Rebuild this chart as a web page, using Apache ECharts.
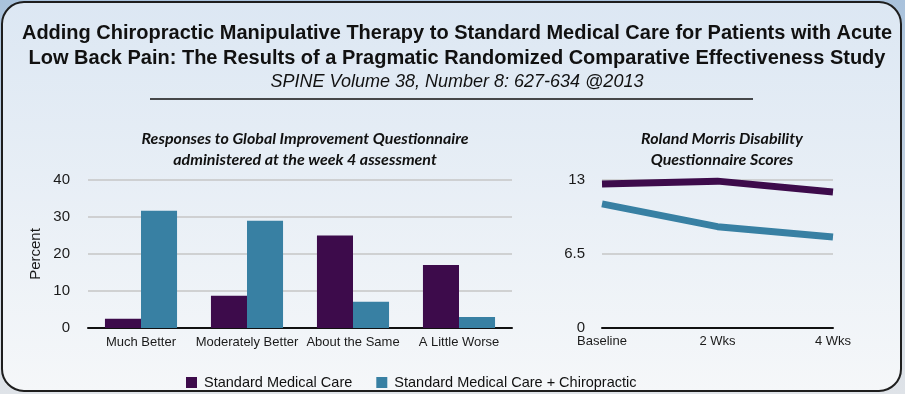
<!DOCTYPE html>
<html>
<head>
<meta charset="utf-8">
<script src="https://cdn.jsdelivr.net/npm/echarts@6/dist/echarts.min.js"></script>
<style>
html,body{margin:0;padding:0;}
body{width:905px;height:394px;background:linear-gradient(to bottom,#a9c2dc,#dfe3e8);}
#c{width:905px;height:394px;}
</style>
</head>
<body>
<div id="c"></div>
<script>
const barCategories = ['Much Better', 'Moderately Better', 'About the Same', 'A Little Worse'];
const barStandard = [2.5, 8.7, 25, 17];
const barChiro = [31.7, 29, 7.1, 3];
const lineCategories = ['Baseline', '2 Wks', '4 Wks'];
const lineStandard = [12.65, 12.9, 11.95];
const lineChiro = [10.9, 8.9, 8.0];
const seriesNames = ['Standard Medical Care', 'Standard Medical Care + Chiropractic'];
const colors = ['#3d0b4b', '#3880a3'];

const chart = echarts.init(document.getElementById('c'), null, {renderer: 'canvas'});
const axisText = {color: '#1a1a1a', fontFamily: 'Liberation Sans, Arial, sans-serif'};
chart.setOption({
  animation: false,
  color: colors,
  graphic: [
    {type: 'rect', z: -10, shape: {x: 2, y: 2, width: 899, height: 389, r: 22},
     style: {fill: new echarts.graphic.LinearGradient(0, 0, 0, 1, [{offset: 0, color: '#dce7f3'}, {offset: 1, color: '#f5f7f9'}]), stroke: '#1e1e1e', lineWidth: 2}},
    {type: 'line', shape: {x1: 150, y1: 99, x2: 753, y2: 99}, style: {stroke: '#111', lineWidth: 1.5}}
  ],
  title: [
    {text: 'Adding Chiropractic Manipulative Therapy to Standard Medical Care for Patients with Acute\nLow Back Pain: The Results of a Pragmatic Randomized Comparative Effectiveness Study',
     left: 452, top: 16, textAlign: 'center',
     textStyle: {fontFamily: 'Liberation Sans, Arial, sans-serif', fontWeight: 'bold', fontSize: 20, lineHeight: 25, color: '#111'}},
    {text: 'SPINE Volume 38, Number 8: 627-634 @2013', left: 452, top: 68, textAlign: 'center',
     textStyle: {fontFamily: 'Liberation Sans, Arial, sans-serif', fontStyle: 'italic', fontWeight: 'normal', fontSize: 18, color: '#111'}},
    {text: 'Responses to Global Improvement Questionnaire\nadministered at the week 4 assessment', left: 300, top: 123, textAlign: 'center',
     textStyle: {fontFamily: 'Lato, sans-serif', fontStyle: 'italic', fontWeight: 'bold', fontSize: 16, lineHeight: 21, color: '#111'}},
    {text: 'Roland Morris Disability\nQuestionnaire Scores', left: 717, top: 123, textAlign: 'center',
     textStyle: {fontFamily: 'Lato, sans-serif', fontStyle: 'italic', fontWeight: 'bold', fontSize: 16, lineHeight: 21, color: '#111'}}
  ],
  legend: {
    data: seriesNames, left: 181, top: 370, icon: 'rect', itemWidth: 11, itemHeight: 11, itemGap: 24,
    textStyle: {fontFamily: 'Liberation Sans, Arial, sans-serif', fontSize: 14.5, color: '#111', padding: [0, 0, 0, 2]}
  },
  grid: [
    {left: 88, right: 393, top: 180, bottom: 66},
    {left: 602, right: 72, top: 180, bottom: 66}
  ],
  xAxis: [
    {type: 'category', gridIndex: 0, data: barCategories,
     axisLine: {lineStyle: {color: '#111', width: 2}}, axisTick: {show: false},
     axisLabel: Object.assign({fontSize: 13, margin: 8, interval: 0}, axisText)},
    {type: 'category', gridIndex: 1, data: lineCategories, boundaryGap: false,
     axisLine: {lineStyle: {color: '#111', width: 2}}, axisTick: {show: false},
     axisLabel: Object.assign({fontSize: 13, margin: 7, interval: 0}, axisText)}
  ],
  yAxis: [
    {type: 'value', gridIndex: 0, min: 0, max: 40, interval: 10,
     name: 'Percent', nameLocation: 'middle', nameGap: 45, nameRotate: 90,
     nameTextStyle: {fontFamily: 'Liberation Sans, Arial, sans-serif', fontSize: 15, color: '#1a1a1a'},
     axisLine: {show: false}, axisTick: {show: false},
     splitLine: {lineStyle: {color: '#c6c6c6', width: 1.5}},
     axisLabel: Object.assign({fontSize: 15, margin: 18}, axisText)},
    {type: 'value', gridIndex: 1, min: 0, max: 13, interval: 6.5,
     axisLine: {show: false}, axisTick: {show: false},
     splitLine: {lineStyle: {color: '#c6c6c6', width: 1.5}},
     axisLabel: Object.assign({fontSize: 15, margin: 17}, axisText)}
  ],
  series: [
    {name: seriesNames[0], type: 'bar', xAxisIndex: 0, yAxisIndex: 0, data: barStandard, barGap: '0%', barCategoryGap: '32%', itemStyle: {color: colors[0]}},
    {name: seriesNames[1], type: 'bar', xAxisIndex: 0, yAxisIndex: 0, data: barChiro, barGap: '0%', barCategoryGap: '32%', itemStyle: {color: colors[1]}},
    {name: seriesNames[0], type: 'line', xAxisIndex: 1, yAxisIndex: 1, data: lineStandard, showSymbol: false, symbol: 'none', lineStyle: {width: 7, color: colors[0]}, itemStyle: {color: colors[0]}},
    {name: seriesNames[1], type: 'line', xAxisIndex: 1, yAxisIndex: 1, data: lineChiro, showSymbol: false, symbol: 'none', lineStyle: {width: 7, color: colors[1]}, itemStyle: {color: colors[1]}}
  ]
});
</script>
</body>
</html>
